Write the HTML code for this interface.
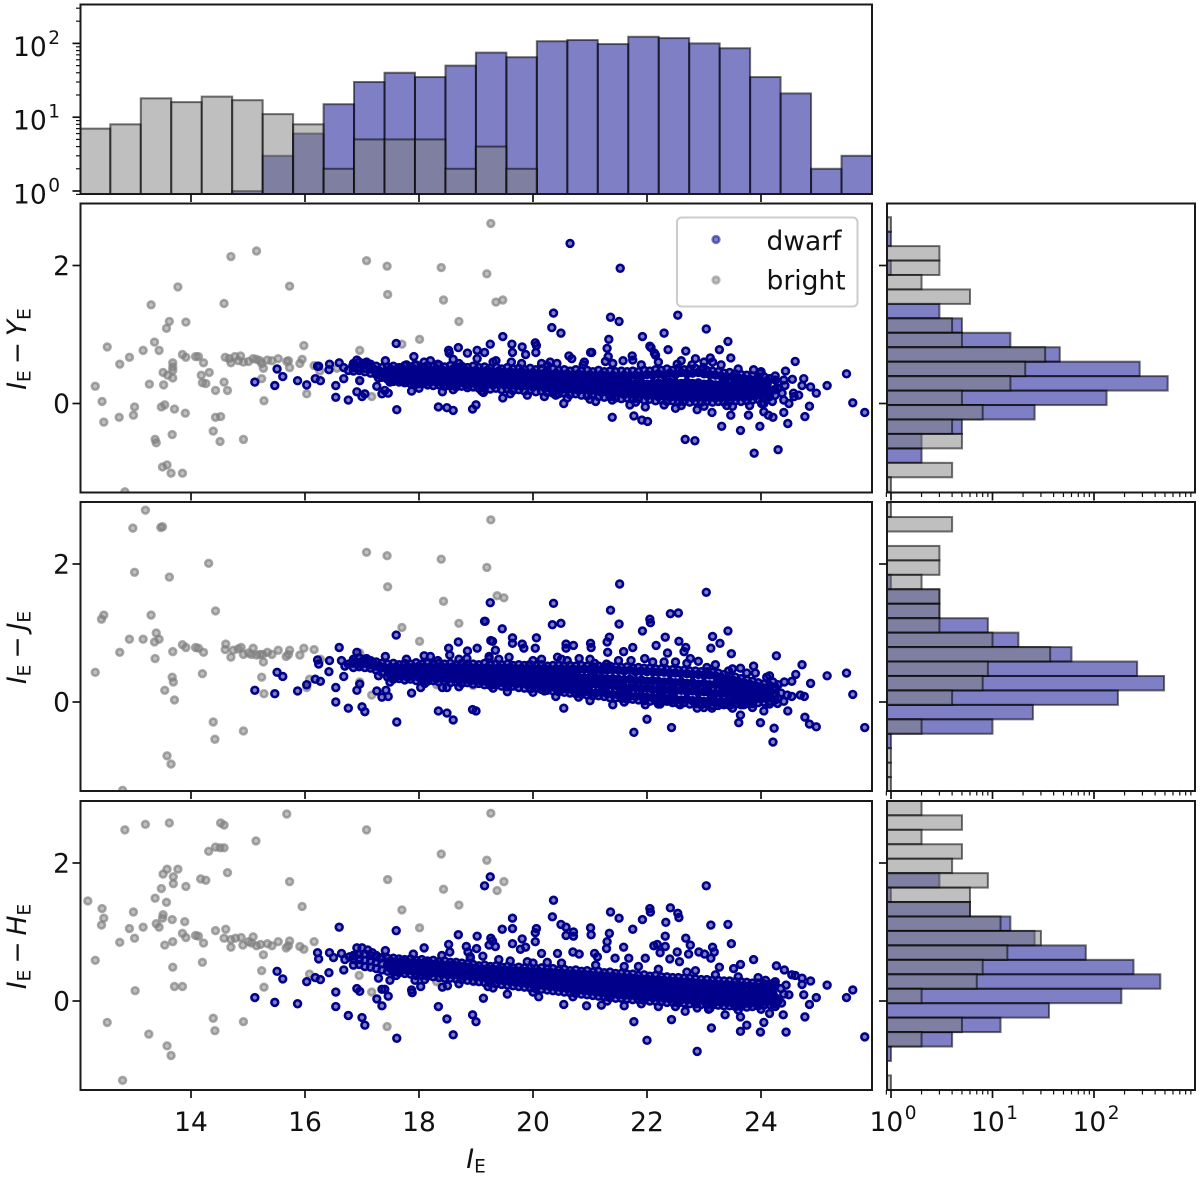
<!DOCTYPE html>
<html lang="en">
<head>
<meta charset="utf-8">
<title>Colour-magnitude diagrams of dwarf and bright galaxies</title>
<style>
html,body{margin:0;padding:0;background:#fff;width:1200px;height:1178px;overflow:hidden}
svg{display:block;font-family:"DejaVu Sans","Liberation Sans",sans-serif;fill:#111}
</style>
</head>
<body>
<svg id="chart" xmlns="http://www.w3.org/2000/svg" width="1200" height="1178" viewBox="0 0 1200 1178"></svg>
<script>
// ---- top histogram of I_E
const magBinStart = 12.05;
const magBinWidth = 0.5345;
const magHistDwarf = [0,0,0,0,0,1,3,6,15,30,40,35,50,75,65,107,111,98,123,118,100,86,35,21,2,3];
const magHistBright = [7,8,18,16,19,17,11,8,2,5,5,5,2,4,2,0,0,0,0,0,0,0,0,0,0,0];

// ---- right histograms of colours (top bin first)
const colourBinWidth = 0.2094;
const colourBinTop = [2.70, 2.89, 2.90];
const colourHistDwarf = [
 [0,1,0,1,0,0,3,5,15,46,282,532,133,26,5,2,2,0,0],
 [0,0,0,0,0,1,3,3,9,18,60,266,490,172,25,10,1,0,0,0],
 [0,0,0,0,0,3,1,6,15,26,83,245,450,186,36,12,4,1,0,0]
];
const colourHistBright = [
 [1,0,3,3,2,6,0,4,5,33,21,15,5,8,4,5,0,4,1],
 [1,4,0,3,3,2,3,3,3,10,37,9,8,4,0,2,0,1,1,1],
 [2,5,2,5,4,9,6,6,12,30,14,8,7,2,0,5,2,0,0,1]
];

// ---- scatter: bright galaxies [I_E, colour]
const brightYE = [[14.70,2.13],[15.15,2.21],[13.77,1.69],[15.73,1.70],[13.30,1.43],[14.58,1.45],[13.62,1.19],[13.91,1.18],[13.57,1.09],[13.36,.89],[12.53,.82],[13.16,.77],[13.44,.77],[12.92,.67],[12.75,.57],[13.85,.71],[13.91,.67],[14.08,.68],[14.13,.68],[14.22,.59],[13.68,.59],[13.68,.53],[13.68,.48],[13.51,.45],[13.59,.41],[13.68,.37],[14.32,.45],[14.18,.41],[14.20,.30],[14.26,.29],[12.32,.25],[13.27,.28],[13.52,.27],[14.58,.31],[14.64,.19],[14.43,.19],[12.44,.03],[13.01,-.05],[12.99,-.17],[12.74,-.20],[12.47,-.27],[13.48,-.05],[13.54,-.02],[13.71,-.08],[13.90,-.14],[14.43,-.20],[14.52,-.19],[14.39,-.40],[14.51,-.55],[14.92,-.52],[13.67,-.45],[13.37,-.52],[13.39,-.57],[13.50,-.92],[13.58,-.89],[13.65,-1.01],[13.85,-1.01],[12.84,-1.28],[14.60,.67],[14.67,.65],[14.77,.68],[14.87,.69],[14.70,.59],[14.83,.62],[14.92,.60],[15.01,.61],[15.09,.65],[15.15,.64],[15.21,.62],[15.24,.58],[15.27,.51],[15.34,.63],[15.42,.62],[15.53,.65],[15.68,.61],[15.71,.62],[15.73,.52],[15.91,.58],[15.95,.64],[15.98,.84],[15.24,.36],[15.28,.04],[16.03,.14],[16.16,.55],[16.26,.47],[16.56,.51],[16.96,.77],[16.96,.34],[17.17,.10],[17.70,.86],[18.01,.93],[17.45,1.58],[17.44,1.99],[17.08,2.07],[18.39,1.97],[18.43,1.50],[18.70,1.19],[19.19,1.88],[19.26,2.61],[18.95,.24],[18.31,.31],[19.35,1.47],[19.47,1.50]];
const brightJE = [[13.20,2.78],[12.98,2.52],[13.50,2.54],[13.47,2.53],[13.01,1.88],[13.62,1.81],[14.31,2.01],[14.43,1.32],[13.30,1.26],[12.47,1.26],[12.43,1.20],[13.39,1.00],[13.44,.91],[13.36,.87],[12.92,.91],[13.16,.91],[12.75,.72],[13.85,.83],[13.91,.79],[14.08,.79],[14.13,.78],[14.22,.72],[13.68,.73],[13.37,.63],[12.32,.43],[14.20,.41],[13.67,.36],[13.69,.29],[13.54,.17],[13.71,.03],[14.39,-.29],[14.42,-.54],[14.92,-.42],[13.58,-.78],[13.65,-.90],[12.80,-1.28],[14.60,.76],[14.61,.84],[14.70,.65],[14.74,.75],[14.83,.77],[14.88,.79],[14.92,.69],[15.01,.71],[15.09,.78],[15.06,.69],[15.15,.68],[15.21,.69],[15.26,.69],[15.27,.58],[15.34,.72],[15.42,.69],[15.53,.75],[15.67,.66],[15.71,.69],[15.73,.75],[15.91,.68],[15.98,.78],[16.16,.76],[16.27,.62],[15.24,.36],[15.28,.12],[16.03,.21],[16.08,.33],[16.96,.71],[16.96,.29],[17.17,.10],[17.08,2.17],[17.44,2.12],[17.45,1.67],[18.39,2.07],[18.43,1.46],[18.70,1.14],[17.70,1.08],[18.01,.88],[19.19,1.95],[19.26,2.64],[18.31,.25],[18.95,.24],[19.37,1.54],[19.49,1.51]];
const brightHE = [[15.68,2.71],[12.84,2.48],[13.20,2.56],[13.62,2.58],[14.52,2.58],[14.58,2.55],[15.14,2.32],[14.31,2.17],[14.43,2.23],[14.51,2.22],[14.58,2.22],[14.64,1.86],[13.58,1.91],[13.77,1.91],[13.51,1.84],[13.69,1.80],[13.69,1.70],[14.17,1.77],[14.26,1.75],[13.91,1.66],[13.48,1.63],[13.37,1.49],[13.57,1.43],[12.19,1.45],[12.44,1.34],[12.47,1.20],[12.43,1.10],[12.99,1.29],[13.51,1.25],[13.50,1.20],[13.67,1.18],[13.89,1.15],[13.39,1.12],[13.44,1.07],[13.16,1.07],[12.92,1.05],[13.01,.91],[12.75,.85],[13.54,.81],[13.68,.86],[13.85,.98],[13.91,.92],[14.08,.95],[14.13,.94],[14.22,.84],[14.43,1.02],[14.61,1.04],[14.58,.91],[14.70,.89],[14.70,.78],[14.78,.91],[14.88,.92],[14.91,.81],[15.01,.86],[15.09,.93],[15.06,.84],[15.15,.80],[15.22,.82],[15.27,.67],[15.34,.83],[15.42,.80],[15.53,.86],[15.67,.77],[15.71,.80],[15.73,.87],[15.91,.79],[15.98,.75],[16.16,.86],[15.95,1.37],[15.73,1.73],[12.32,.59],[14.20,.56],[13.68,.49],[13.02,.15],[13.71,.21],[13.85,.21],[15.24,.44],[15.28,.20],[16.08,.39],[12.53,-.31],[13.26,-.48],[13.58,-.65],[13.65,-.79],[12.80,-1.15],[14.39,-.25],[14.42,-.43],[14.92,-.30],[16.95,.37],[17.17,.13],[17.44,-.37],[17.45,1.76],[17.08,2.48],[17.70,1.32],[18.01,1.06],[18.39,2.13],[18.43,1.62],[18.70,1.39],[19.19,2.04],[19.26,2.72],[18.31,.28],[18.96,.28],[19.49,1.73],[19.37,1.60]];

// ---- scatter: dwarf galaxies, sparse outskirts [I_E, colour]
const dwarfYE = [[15.12,.31],[15.51,.50],[15.61,.39],[15.47,.26],[15.87,.33],[16.03,.27],[16.18,.36],[16.27,.33],[16.22,.54],[16.24,.54],[16.43,.57],[16.42,.49],[16.60,.59],[16.54,.26],[16.54,.09],[16.76,.05],[16.68,.36],[16.91,.63],[16.96,.33],[17.05,.14],[16.91,.17],[17.00,.10],[17.26,.25],[17.41,.62],[17.49,.31],[17.40,.19],[17.35,.14],[17.46,.15],[17.29,.37],[17.60,.87],[17.61,-.09],[17.87,.18],[18.03,.29],[17.91,.68],[17.78,.56],[18.09,.60],[17.93,.56],[18.33,.57],[18.31,.31],[18.41,.17],[18.49,.26],[18.34,-.05],[18.49,-.06],[18.60,-.10],[18.94,-.08],[19.00,-.02],[19.13,.16],[18.52,.77],[18.53,.73],[18.60,.64],[18.69,.81],[18.85,.73],[19.02,.77],[19.02,.65],[19.15,.74],[19.25,.86],[18.85,.27],[16.68,.52],[16.76,.48],[16.84,.55],[16.95,.52],[17.02,.58],[17.08,.60],[17.14,.54],[17.20,.50],[17.30,.47],[17.38,.44],
[20.65,2.32],[21.53,1.96],[20.36,1.31],[20.33,1.10],[20.49,1.02],[21.36,1.25],[21.51,1.19],[22.54,1.28],[23.04,1.08],[22.30,1.02],[21.92,.97],[21.33,.93],[23.42,.90],[23.27,.78],[21.30,.80],[21.32,.68],[21.27,.61],[21.01,.74],[21.03,.74],[22.37,.78],[22.05,.83],[22.07,.81],[22.13,.73],[22.15,.70],[22.68,.76],[22.85,.65],[23.11,.66],[23.15,.60],[23.47,.66],[24.60,.61],[24.43,.47],[24.75,.36],[24.55,.35],[24.72,.26],[24.87,.24],[24.97,.15],[25.16,.26],[25.50,.43],[25.61,.01],[25.82,-.13],[24.85,-.04],[24.77,-.19],[24.47,-.29],[24.40,-.13],[24.21,-.20],[24.13,-.17],[24.05,-.12],[24.01,0],[23.98,-.33],[24.30,-.67],[23.88,-.72],[23.64,-.39],[23.31,-.33],[23.47,-.17],[23.78,-.17],[23.14,-.13],[22.88,-.09],[22.67,-.52],[22.84,-.54],[22.01,-.26],[21.91,-.24],[21.77,-.18],[21.39,-.20],[21.97,-.05],[21.80,.02],[21.39,.05],[20.54,0],[19.47,.08],[20.04,.88],[20.06,.84],[20.05,.74],[19.63,.86],[19.64,.74],[19.81,.82],[19.87,.71],[19.47,.97],[20.63,.69],[20.68,.65],[20.88,.56],[21.74,.69],[21.75,.63],[21.58,.62],[22.53,.57],[22.79,.56],[22.99,.52],[23.87,.49],[23.99,.44],[24.57,.15],[24.49,0],[24.58,.10],[24.66,.12],[24.23,.20],[24.37,.15],[24.11,.29],[24.16,.36],[24.30,.30],[24.42,.26],[20.25,.55],[20.42,.58],[20.15,.58],[19.62,.60],[19.35,.62],[19.90,.12],[20.20,.10],[20.60,.08],[21.10,.03],[22.30,-.02],[22.60,-.03],[23.00,-.04],[23.40,-.03],
[18.2,.62],[18.7,.58],[19.3,.60],[19.8,.58],[20.3,.60],[20.9,.60],[21.4,.58],[21.9,.56],[22.2,.60],[22.6,.62],[23.0,.60],[23.3,.56],[23.6,.50],[24.0,.46],[24.25,.40],[24.4,.34],[24.3,.22],[24.4,.05],[24.2,.03],[24.05,.0],[23.8,-.03],[23.5,-.04],[22.5,-.07],[21.7,-.02],[21.0,.06],[20.4,.12],[19.6,.14],[19.1,.18],[18.6,.20],[18.0,.22]];
const dwarfJE = [[15.12,.17],[15.51,.43],[15.61,.37],[15.47,.12],[15.87,.16],[16.03,.25],[16.18,.33],[16.27,.30],[16.22,.61],[16.24,.55],[16.43,.60],[16.42,.44],[16.60,.79],[16.64,.60],[16.54,.21],[16.54,0],[16.76,-.09],[16.68,.37],[16.91,.72],[16.96,.26],[16.91,.17],[17.00,-.07],[17.05,-.14],[17.26,.16],[17.35,.07],[17.46,.08],[17.42,.17],[17.29,.38],[17.41,.66],[17.49,.29],[17.60,.97],[17.61,-.29],[17.87,.13],[18.03,.21],[17.78,.62],[18.09,.67],[18.33,.60],[18.41,.21],[18.49,.21],[18.34,-.13],[18.49,-.16],[18.60,-.26],[18.94,-.11],[19.00,-.13],[18.52,.78],[18.54,.68],[18.69,.87],[18.85,.74],[19.02,.78],[19.15,1.17],[19.25,1.44],[19.26,.89],[18.84,.63],[19.23,.63],[16.70,.52],[16.76,.55],[16.84,.58],[16.95,.55],[17.02,.60],[17.08,.63],[17.14,.58],[17.20,.56],[17.30,.52],[17.38,.50],
[21.52,1.71],[23.04,1.59],[19.16,1.17],[20.36,1.43],[20.34,1.12],[20.49,1.14],[21.36,1.33],[21.51,1.13],[22.41,1.28],[22.55,1.29],[22.05,1.20],[22.06,1.15],[21.92,1.03],[22.32,.94],[22.56,.88],[22.68,.79],[22.65,.73],[22.16,.82],[21.75,.79],[21.59,.73],[21.31,.72],[21.30,.87],[21.34,.94],[21.01,.85],[21.02,.79],[20.58,.84],[20.71,.82],[20.58,.78],[20.06,.93],[20.04,.78],[19.81,.84],[19.84,.78],[19.64,.93],[19.64,.85],[19.46,1.06],[19.29,.88],[19.34,.75],[23.42,1.03],[23.15,.95],[23.28,.85],[23.12,.78],[23.48,.70],[24.27,.67],[24.72,.54],[24.61,.40],[24.87,.27],[25.16,.38],[25.50,.42],[25.61,.11],[25.82,-.37],[24.76,.08],[24.69,.10],[24.97,-.36],[24.85,-.32],[24.77,-.22],[24.47,-.13],[24.23,-.38],[24.21,-.58],[24.05,-.13],[23.99,-.30],[23.61,-.30],[23.64,-.19],[22.00,-.25],[21.77,-.44],[22.43,-.37],[20.54,-.09],[21.40,-.04],[21.97,-.04],[22.23,-.03],[22.58,-.04],[22.88,-.09],[23.14,-.09],[24.15,.38],[24.21,.29],[24.41,.29],[24.54,.30],[23.87,.52],[23.64,.49],[23.43,.45],[23.75,.42],[24.22,.12],[24.29,-.02],[24.40,.01],[24.46,.10],[24.54,.08],[22.90,.59],[22.76,.63],[22.36,.71],[21.96,.63],[21.72,.60],[21.29,.55],[21.08,.56],[20.81,.63],[20.43,.65],[20.15,.62],[19.94,.54],[19.58,.65],[19.23,.66],[19.55,.15],[20.00,.14],[20.40,.08],[21.00,.02],[22.40,.01],[23.30,-.03],[23.70,-.04],[22.10,.58],[22.50,.58],[23.05,.50],[20.60,.60],
[18.2,.66],[18.7,.62],[19.4,.62],[20.0,.60],[20.5,.62],[21.0,.62],[21.5,.60],[22.3,.58],[22.7,.56],[23.2,.54],[23.5,.48],[23.9,.42],[24.1,.36],[24.3,.25],[24.25,.18],[24.35,.13],[24.3,.05],[24.15,-.03],[23.85,-.08],[23.5,-.09],[23.0,-.08],[22.2,-.03],[21.6,.0],[20.8,.07],[20.2,.16],[19.3,.20],[18.7,.22],[18.1,.27]];
const dwarfHE = [[15.12,.05],[15.51,.43],[15.61,.32],[15.47,-.02],[15.87,-.04],[16.03,.28],[16.18,.34],[16.27,.31],[16.22,.70],[16.24,.61],[16.43,.70],[16.42,.41],[16.60,1.07],[16.64,.69],[16.50,.63],[16.54,.13],[16.54,-.08],[16.76,-.21],[16.68,.45],[16.91,.77],[17.00,.77],[17.10,.74],[16.91,.18],[16.96,.14],[17.00,-.24],[17.05,-.35],[17.26,.03],[17.35,-.07],[17.46,.07],[17.40,.17],[17.35,.17],[17.29,.33],[17.41,.73],[17.49,.30],[17.60,1.02],[17.61,-.54],[17.87,.16],[17.88,.12],[18.03,.21],[18.09,.77],[17.93,.30],[18.41,.20],[18.50,.22],[18.34,-.08],[18.49,-.26],[18.60,-.49],[18.94,-.20],[19.00,-.30],[19.13,.04],[18.52,.82],[18.54,.71],[18.69,.96],[18.83,.79],[18.86,.71],[19.02,.94],[19.01,.76],[19.15,1.67],[19.25,1.80],[19.26,.91],[19.23,.81],[19.21,.21],[16.70,.60],[16.78,.64],[16.85,.66],[16.93,.68],[17.18,.70],[17.25,.66],[17.32,.62],
[23.04,1.67],[20.36,1.46],[20.34,1.22],[20.49,1.11],[20.58,1.07],[20.71,1.00],[20.71,.94],[20.58,.95],[21.01,1.06],[21.02,.96],[21.36,1.29],[21.51,1.20],[21.92,1.18],[21.75,1.04],[22.05,1.34],[22.06,1.29],[22.41,1.35],[22.54,1.27],[22.56,1.21],[22.33,1.14],[22.32,.94],[21.34,.98],[21.30,.86],[21.29,.76],[21.59,.78],[20.06,1.05],[20.04,.99],[20.04,.86],[19.64,1.20],[19.64,1.05],[19.64,.83],[19.46,1.04],[19.81,.90],[19.87,.78],[19.78,.75],[19.29,.87],[19.34,.79],[23.12,1.10],[23.42,1.11],[23.48,.83],[23.15,.78],[23.18,.71],[23.12,.62],[22.68,.91],[22.76,.81],[22.53,.71],[22.73,.68],[22.91,.71],[23.01,.68],[22.12,.80],[22.18,.82],[22.32,.79],[22.40,.61],[22.23,.70],[22.57,.57],[20.15,.69],[20.43,.69],[20.70,.71],[20.81,.68],[21.08,.69],[21.13,.64],[21.68,.62],[21.97,.62],[21.44,.62],[23.87,.60],[23.64,.53],[23.27,.49],[23.52,.47],[24.27,.51],[24.41,.45],[24.54,.38],[24.60,.37],[24.72,.33],[24.87,.29],[25.16,.23],[25.61,.16],[25.50,.05],[24.97,.05],[24.85,-.05],[24.77,-.23],[24.75,.09],[24.44,-.45],[24.39,-.20],[24.15,-.18],[24.05,-.31],[23.99,-.45],[23.75,-.35],[23.64,-.44],[23.64,-.23],[23.37,-.20],[23.13,-.39],[23.08,-.12],[22.88,-.73],[22.88,-.10],[22.67,-.15],[22.43,-.27],[22.00,-.57],[21.77,-.30],[20.94,-.07],[20.54,-.05],[25.82,-.52],[24.44,.23],[24.72,.24],[24.49,.09],[24.22,-.03],[24.36,-.03],[24.22,.26],[24.21,.11],[24.08,.30],[19.60,.58],[20.00,.55],[20.25,.56],[21.85,.50],[22.85,.44],[19.55,.10],[20.10,.06],[21.20,-.06],[21.60,-.07],[22.20,-.08],[19.12,.65],[18.90,.64],
[17.9,.68],[18.4,.66],[18.9,.62],[19.4,.60],[19.9,.57],[20.5,.55],[21.1,.52],[21.6,.50],[22.2,.46],[22.7,.42],[23.2,.38],[23.6,.35],[23.95,.34],[24.25,.28],[24.35,.18],[24.4,.10],[24.3,.0],[24.25,-.08],[24.0,-.12],[23.6,-.13],[23.1,-.11],[22.5,-.08],[21.9,-.04],[21.3,.0],[20.7,.06],[20.0,.13],[19.3,.19],[18.7,.25],[18.1,.31],[17.6,.37]];

// ---- scatter: dwarf galaxies, dense ridge; each row is I_E then the colours of the objects at that magnitude
const dwarfRidgeYE = [[17.5,.50,.44,.39,.33],[17.6,.49,.43,.37,.34],[17.7,.51,.45,.38,.32],[17.8,.48,.44,.37,.33],[17.9,.50,.43,.39,.31],[18.0,.49,.44,.36,.32],[18.1,.51,.42,.38,.30],[18.2,.48,.43,.37,.31],[18.3,.50,.44,.36,.32],[18.4,.49,.42,.37,.30],[18.5,.47,.43,.35,.31],[18.6,.50,.41,.37,.29],[18.7,.48,.42,.35,.30],[18.8,.49,.40,.36,.29],[18.9,.47,.42,.34,.30],[19.0,.48,.41,.35,.28],[19.1,.46,.40,.34,.29],[19.2,.48,.39,.33,.28],[19.3,.45,.40,.34,.27],[19.4,.47,.38,.33,.28],[19.5,.45,.39,.32,.27],[19.6,.46,.38,.33,.26],[19.7,.44,.38,.31,.26],[19.8,.46,.37,.32,.25],[19.9,.43,.38,.31,.26],[20.0,.45,.36,.31,.24],[20.1,.43,.37,.30,.25],[20.2,.44,.35,.29,.23],[20.3,.42,.36,.30,.22],[20.4,.44,.35,.28,.23],[20.5,.42,.34,.27,.21],[20.6,.43,.35,.28,.20],[20.7,.41,.33,.26,.21],[20.8,.43,.34,.27,.19],[20.9,.41,.32,.25,.20],[21.0,.42,.33,.26,.18],[21.1,.40,.31,.24,.19],[21.2,.42,.32,.25,.16],[21.3,.40,.30,.23,.17],[21.4,.41,.31,.22,.14],[21.5,.39,.29,.23,.15],[21.6,.41,.30,.21,.13],[21.7,.40,.28,.22,.14],[21.8,.41,.29,.20,.12],[21.9,.40,.30,.21,.13],[22.0,.42,.28,.19,.11],[22.1,.41,.29,.20,.12],[22.2,.43,.30,.19,.10],[22.3,.41,.29,.18,.11],[22.4,.44,.31,.19,.09],[22.5,.42,.30,.20,.10],[22.6,.45,.29,.18,.08],[22.7,.43,.31,.19,.09],[22.8,.44,.29,.18,.08],[22.9,.45,.30,.19,.09],[23.0,.43,.28,.18,.08],[23.1,.42,.29,.17,.09],[23.2,.41,.27,.18,.08],[23.3,.40,.28,.16,.09],[23.4,.38,.26,.17,.08],[23.5,.39,.27,.16,.09],[23.6,.37,.25,.17,.10],[23.7,.36,.26,.15,.09],[23.8,.35,.24,.16,.10],[23.9,.34,.25,.17,.11],[24.0,.32,.24,.16,.12],[24.1,.33,.22,.15,.13]];
const dwarfRidgeJE = [[17.5,.50,.46,.42,.38],[17.6,.51,.45,.41,.37],[17.7,.49,.44,.40,.38],[17.8,.51,.46,.41,.36],[17.9,.50,.44,.40,.37],[18.0,.52,.45,.39,.36],[18.1,.50,.44,.40,.35],[18.2,.51,.46,.39,.36],[18.3,.49,.44,.38,.34],[18.4,.51,.45,.39,.35],[18.5,.50,.43,.38,.33],[18.6,.51,.44,.37,.34],[18.7,.49,.43,.38,.32],[18.8,.51,.44,.37,.33],[18.9,.50,.42,.36,.31],[19.0,.50,.43,.37,.31],[19.1,.49,.42,.35,.30],[19.2,.50,.43,.36,.29],[19.3,.48,.41,.34,.30],[19.4,.50,.42,.35,.28],[19.5,.49,.41,.34,.27],[19.6,.50,.40,.33,.28],[19.7,.48,.41,.34,.26],[19.8,.49,.39,.32,.27],[19.9,.48,.40,.33,.25],[20.0,.49,.39,.31,.24],[20.1,.48,.38,.32,.25],[20.2,.49,.39,.30,.22],[20.3,.47,.37,.31,.23],[20.4,.48,.38,.29,.20],[20.5,.48,.37,.28,.18],[20.6,.47,.36,.27,.19],[20.7,.48,.37,.28,.17],[20.8,.47,.36,.26,.16],[20.9,.48,.35,.27,.15],[21.0,.47,.36,.25,.14],[21.1,.46,.34,.26,.13],[21.2,.47,.35,.24,.14],[21.3,.46,.33,.23,.12],[21.4,.47,.34,.24,.11],[21.5,.46,.33,.22,.10],[21.6,.45,.32,.21,.11],[21.7,.46,.33,.20,.09],[21.8,.44,.31,.21,.08],[21.9,.45,.32,.19,.09],[22.0,.44,.30,.20,.07],[22.1,.44,.31,.18,.06],[22.2,.43,.30,.19,.07],[22.3,.43,.29,.17,.05],[22.4,.42,.30,.18,.06],[22.5,.42,.28,.16,.04],[22.6,.41,.29,.17,.03],[22.7,.41,.27,.15,.04],[22.8,.40,.28,.16,.02],[22.9,.40,.26,.14,.03],[23.0,.39,.27,.15,.01],[23.1,.39,.25,.13,.02],[23.2,.38,.26,.12,.00],[23.3,.36,.24,.13,.01],[23.4,.34,.23,.12,.00],[23.5,.32,.22,.11,.01],[23.6,.30,.21,.12,.02],[23.7,.28,.20,.10,.01],[23.8,.26,.19,.11,.03],[23.9,.24,.18,.10,.04],[24.0,.22,.17,.11,.05],[24.1,.20,.16,.10,.05]];
const dwarfRidgeHE = [[17.5,.58,.54,.50,.47],[17.6,.57,.53,.49,.46],[17.7,.58,.52,.48,.45],[17.8,.56,.52,.49,.44],[17.9,.56,.51,.47,.43],[18.0,.55,.50,.46,.42],[18.1,.56,.50,.45,.41],[18.2,.54,.49,.44,.40],[18.3,.54,.48,.45,.41],[18.4,.53,.49,.43,.39],[18.5,.52,.47,.42,.38],[18.6,.53,.46,.43,.38],[18.7,.51,.47,.41,.37],[18.8,.50,.45,.40,.36],[18.9,.49,.44,.41,.36],[19.0,.48,.44,.39,.35],[19.1,.46,.42,.38,.34],[19.2,.47,.41,.36,.32],[19.3,.46,.40,.35,.31],[19.4,.46,.39,.34,.30],[19.5,.45,.39,.34,.29],[19.6,.45,.38,.32,.28],[19.7,.44,.37,.33,.27],[19.8,.44,.37,.31,.26],[19.9,.43,.36,.30,.25],[20.0,.43,.36,.29,.24],[20.1,.43,.35,.28,.23],[20.2,.42,.34,.29,.22],[20.3,.42,.34,.27,.21],[20.4,.41,.33,.26,.20],[20.5,.41,.33,.25,.19],[20.6,.40,.32,.26,.18],[20.7,.40,.31,.24,.17],[20.8,.39,.31,.23,.16],[20.9,.39,.30,.22,.15],[21.0,.38,.29,.21,.14],[21.1,.37,.29,.20,.13],[21.2,.37,.28,.21,.12],[21.3,.36,.27,.19,.11],[21.4,.36,.27,.18,.10],[21.5,.35,.26,.17,.09],[21.6,.34,.25,.18,.08],[21.7,.34,.25,.16,.08],[21.8,.33,.24,.15,.07],[21.9,.32,.23,.14,.07],[22.0,.32,.23,.15,.06],[22.1,.31,.22,.13,.05],[22.2,.31,.21,.12,.05],[22.3,.30,.21,.11,.04],[22.4,.29,.20,.12,.03],[22.5,.29,.19,.10,.03],[22.6,.28,.19,.09,.02],[22.7,.28,.18,.10,.02],[22.8,.27,.17,.08,.01],[22.9,.26,.17,.07,.01],[23.0,.26,.16,.08,.00],[23.1,.25,.15,.06,.00],[23.2,.25,.15,.05,-.01],[23.3,.24,.14,.06,-.02],[23.4,.24,.13,.04,-.02],[23.5,.23,.13,.03,-.03],[23.6,.23,.12,.04,-.03],[23.7,.22,.11,.02,-.04],[23.8,.22,.11,.03,-.04],[23.9,.21,.10,.02,-.03],[24.0,.20,.10,.01,-.02],[24.1,.19,.09,.02,-.01],[24.2,.18,.09,.01,.00]];

// ---- scatter: dwarf galaxies between the ridge rows, reaching its upper and lower edges
const dwarfFringeYE = [[16.85,.58,.52,.47],[16.95,.60,.53,.48],[17.05,.58,.51,.46],[17.15,.57,.50,.44],[17.25,.54,.47,.42],[17.35,.52,.45,.38],[17.45,.53,.42,.35],[17.55,.54,.41,.32],[17.65,.52,.40,.31],[17.75,.55,.42,.30],[17.85,.53,.40,.29],[17.95,.56,.41,.28],[18.05,.53,.40,.29],[18.15,.55,.39,.27],[18.25,.54,.41,.26],[18.35,.56,.40,.27],[18.45,.53,.39,.25],[18.55,.55,.38,.26],[18.65,.53,.40,.24],[18.75,.54,.38,.25],[18.85,.52,.39,.23],[18.95,.54,.37,.24],[19.05,.52,.38,.22],[19.15,.53,.36,.23],[19.25,.51,.37,.21],[19.35,.53,.36,.22],[19.45,.50,.35,.20],[19.55,.52,.36,.21],[19.65,.50,.34,.19],[19.75,.51,.35,.20],[19.85,.49,.34,.18],[19.95,.51,.33,.19],[20.05,.49,.34,.17],[20.15,.50,.32,.18],[20.25,.48,.33,.16],[20.35,.50,.31,.15],[20.45,.48,.32,.14],[20.55,.49,.30,.15],[20.65,.47,.31,.13],[20.75,.49,.29,.14],[20.85,.47,.30,.12],[20.95,.48,.29,.11],[21.05,.46,.28,.12],[21.15,.48,.27,.10],[21.25,.46,.28,.09],[21.35,.47,.26,.10],[21.45,.46,.27,.08],[21.55,.47,.25,.07],[21.65,.46,.26,.08],[21.75,.47,.24,.06],[21.85,.46,.25,.07],[21.95,.48,.24,.05],[22.05,.47,.25,.06],[22.15,.49,.24,.04],[22.25,.48,.25,.05],[22.35,.50,.24,.03],[22.45,.48,.25,.04],[22.55,.51,.24,.02],[22.65,.49,.25,.03],[22.75,.50,.23,.02],[22.85,.51,.24,.03],[22.95,.49,.23,.02],[23.05,.48,.24,.03],[23.15,.47,.22,.02],[23.25,.46,.23,.03],[23.35,.44,.21,.02],[23.45,.45,.22,.03],[23.55,.43,.20,.04],[23.65,.42,.21,.03],[23.75,.41,.19,.04],[23.85,.40,.20,.05],[23.95,.38,.19,.06],[24.05,.39,.18,.08],[24.15,.36,.18,.10],[24.25,.34,.20,.12]];
const dwarfFringeJE = [[16.85,.62,.56,.50],[16.95,.64,.57,.51],[17.05,.62,.56,.50],[17.15,.60,.54,.49],[17.25,.58,.52,.46],[17.35,.56,.50,.43],[17.45,.55,.47,.36],[17.55,.56,.44,.33],[17.65,.54,.43,.34],[17.75,.56,.42,.32],[17.85,.55,.43,.33],[17.95,.57,.42,.31],[18.05,.55,.43,.32],[18.15,.56,.41,.30],[18.25,.54,.42,.31],[18.35,.56,.41,.29],[18.45,.55,.40,.30],[18.55,.56,.41,.28],[18.65,.54,.40,.29],[18.75,.56,.39,.27],[18.85,.55,.40,.28],[18.95,.55,.38,.26],[19.05,.54,.39,.27],[19.15,.56,.38,.25],[19.25,.54,.37,.24],[19.35,.55,.38,.25],[19.45,.54,.37,.23],[19.55,.55,.36,.22],[19.65,.53,.37,.23],[19.75,.54,.35,.21],[19.85,.53,.36,.20],[19.95,.54,.35,.19],[20.05,.53,.34,.20],[20.15,.54,.35,.18],[20.25,.52,.33,.17],[20.35,.53,.34,.16],[20.45,.53,.32,.15],[20.55,.52,.33,.14],[20.65,.53,.31,.13],[20.75,.52,.32,.12],[20.85,.53,.30,.11],[20.95,.52,.31,.10],[21.05,.51,.29,.09],[21.15,.52,.30,.09],[21.25,.51,.28,.08],[21.35,.52,.29,.06],[21.45,.51,.27,.06],[21.55,.50,.28,.05],[21.65,.51,.26,.04],[21.75,.49,.27,.04],[21.85,.50,.25,.03],[21.95,.49,.26,.02],[22.05,.49,.24,.01],[22.15,.48,.25,.02],[22.25,.48,.23,.00],[22.35,.47,.24,.01],[22.45,.47,.22,-.01],[22.55,.46,.23,-.02],[22.65,.46,.21,-.01],[22.75,.45,.22,-.03],[22.85,.45,.20,-.02],[22.95,.44,.21,-.04],[23.05,.44,.19,-.03],[23.15,.43,.20,-.05],[23.25,.42,.18,-.05],[23.35,.40,.18,-.04],[23.45,.38,.17,-.05],[23.55,.36,.16,-.03],[23.65,.34,.15,-.04],[23.75,.32,.14,-.02],[23.85,.30,.14,-.02],[23.95,.28,.13,-.01],[24.05,.26,.13,0],[24.15,.24,.12,.01],[24.25,.22,.12,.03]];
const dwarfFringeHE = [[16.85,.66,.60,.52],[16.95,.68,.60,.53],[17.05,.68,.59,.50],[17.15,.66,.58,.49],[17.25,.64,.56,.47],[17.35,.63,.54,.45],[17.45,.62,.53,.43],[17.55,.62,.51,.42],[17.65,.61,.50,.41],[17.75,.60,.49,.40],[17.85,.61,.48,.39],[17.95,.59,.47,.37],[18.05,.60,.46,.37],[18.15,.58,.46,.36],[18.25,.59,.45,.35],[18.35,.57,.44,.34],[18.45,.58,.43,.33],[18.55,.56,.42,.33],[18.65,.56,.41,.32],[18.75,.55,.40,.31],[18.85,.54,.40,.30],[18.95,.53,.38,.29],[19.05,.51,.38,.28],[19.15,.52,.37,.27],[19.25,.50,.36,.26],[19.35,.51,.35,.25],[19.45,.49,.35,.24],[19.55,.50,.34,.23],[19.65,.48,.33,.22],[19.75,.49,.33,.21],[19.85,.48,.32,.20],[19.95,.48,.32,.19],[20.05,.47,.31,.18],[20.15,.48,.30,.17],[20.25,.46,.30,.16],[20.35,.47,.29,.15],[20.45,.45,.29,.14],[20.55,.46,.28,.13],[20.65,.44,.27,.12],[20.75,.45,.27,.11],[20.85,.43,.26,.10],[20.95,.44,.25,.09],[21.05,.42,.25,.08],[21.15,.43,.24,.07],[21.25,.41,.23,.06],[21.35,.42,.22,.05],[21.45,.40,.22,.04],[21.55,.40,.21,.04],[21.65,.39,.21,.03],[21.75,.39,.20,.02],[21.85,.37,.19,.02],[21.95,.38,.19,.01],[22.05,.36,.18,0],[22.15,.37,.17,0],[22.25,.35,.17,-.01],[22.35,.35,.16,-.02],[22.45,.34,.16,-.02],[22.55,.34,.15,-.03],[22.65,.33,.14,-.03],[22.75,.33,.14,-.04],[22.85,.32,.13,-.04],[22.95,.31,.12,-.05],[23.05,.31,.12,-.05],[23.15,.30,.11,-.06],[23.25,.30,.11,-.06],[23.35,.29,.10,-.07],[23.45,.29,.09,-.07],[23.55,.28,.09,-.08],[23.65,.28,.08,-.08],[23.75,.27,.08,-.09],[23.85,.26,.07,-.08],[23.95,.26,.07,-.07],[24.05,.25,.06,-.06],[24.15,.24,.05,-.05],[24.25,.23,.05,-.04]];

const xTicks = [14,16,18,20,22,24];
const colourTicks = [2,0];
const logDecades = [0,1,2];
const logMinorMultipliers = [2,3,4,5,6,7,8,9];

// ---- axis layout
const leftAxes = {l:80.5, r:872};
const rightAxes = {l:887, r:1195};
const topAxes = {t:4.5, b:194};
const panels = [
 {t:203.5,b:492.5,zero:403.5,name:'ye',sym:'Y'},
 {t:502,b:791,zero:702,name:'je',sym:'J'},
 {t:801,b:1090,zero:1001,name:'he',sym:'H'}
];
const bright = [brightYE, brightJE, brightHE];
const dwarf = [dwarfYE, dwarfJE, dwarfHE];
const ridge = [dwarfRidgeYE, dwarfRidgeJE, dwarfRidgeHE];
const fringe = [dwarfFringeYE, dwarfFringeJE, dwarfFringeHE];

const xScale = v => 191 + (v - 14) * 57;
const yScale = (panel, v) => panels[panel].zero - v * 69;
const topLogScale = c => 191 - Math.log10(c) * 73.8;
const rightLogScale = c => 891 + Math.log10(c) * 101.5;

const svg = document.getElementById('chart');
const NS = 'http://www.w3.org/2000/svg';
function make(tag, attrs, parent) {
  const el = document.createElementNS(NS, tag);
  for (const k in attrs) el.setAttribute(k, attrs[k]);
  (parent || svg).appendChild(el);
  return el;
}

const defs = make('defs', {});
function addClip(id, x, y, w, h) {
  const c = make('clipPath', {id}, defs);
  make('rect', {x, y, width:w, height:h}, c);
}
addClip('clip-top', leftAxes.l, topAxes.t, leftAxes.r - leftAxes.l, topAxes.b - topAxes.t);
panels.forEach((p, i) => {
  addClip('clip-s' + i, leftAxes.l, p.t, leftAxes.r - leftAxes.l, p.b - p.t);
  addClip('clip-h' + i, rightAxes.l, p.t, rightAxes.r - rightAxes.l, p.b - p.t);
});

const histStyle = {blue:'#00008b', grey:'#808080'};

function tick(x1, y1, x2, y2, w, parent, name) {
  const t = make('line', {x1, y1, x2, y2, stroke:'#111', 'stroke-width':w}, parent);
  
  
}
function frame(l, t, r, b, name) {
  const f = make('rect', {x:l, y:t, width:r-l, height:b-t, fill:'none', stroke:'#1a1a1a', 'stroke-width':2});
  
  
}
function label(x, y, str, anchor, size, name) {
  const t = make('text', {x, y, 'text-anchor':anchor, 'font-size':size});
  t.textContent = str;
  
  
  return t;
}
function powerLabel(x, y, exponent, anchor, name) {
  const t = make('text', {x, y, 'text-anchor':anchor, 'font-size':26.5});
  
  
  const base = make('tspan', {}, t);
  base.textContent = '10';
  const sup = make('tspan', {dx:1.5, dy:-12, 'font-size':18.5}, t);
  sup.textContent = String(exponent);
}
function mathLabel(x, y, rotate, parts, name) {
  const attrs = {x, y, 'text-anchor':'middle', 'font-size':26.5};
  if (rotate) attrs.transform = 'rotate(-90 ' + x + ' ' + y + ')';
  const t = make('text', attrs);
  
  
  let low = false;
  parts.forEach(p => {
    const a = {};
    if (p.it) a['font-style'] = 'italic';
    if (p.sub) { a['font-size'] = 18.5; a.dy = 4.5; low = true; }
    else if (low) { a.dy = -4.5; low = false; }
    if (p.dx) a.dx = p.dx;
    const s = make('tspan', a, t);
    s.textContent = p.s;
  });
}

// ---- top histogram
const topGroup = make('g', {'clip-path':'url(#clip-top)'});


function topBars(counts, colour, name) {
  counts.forEach((c, i) => {
    if (!c) return;
    const x = xScale(magBinStart + i * magBinWidth);
    const w = magBinWidth * 57;
    const y = topLogScale(c);
    const r = make('rect', {x, y, width:w, height:topAxes.b + 6 - y, fill:colour, 'fill-opacity':.5, stroke:'#000', 'stroke-opacity':.55, 'stroke-width':2}, topGroup);
    
    
  });
}
topBars(magHistDwarf, histStyle.blue, 'magnitude-bar-dwarf');
topBars(magHistBright, histStyle.grey, 'magnitude-bar-bright');

// ---- colour histograms and scatter panels
function dot(group, x, y, colour, fillOp, strokeOp, name) {
  const c = make('circle', {cx:x, cy:y, r:3.4, fill:colour, 'fill-opacity':fillOp, stroke:colour, 'stroke-opacity':strokeOp, 'stroke-width':2.6}, group);
  
  
}
panels.forEach((p, i) => {
  const g = make('g', {'clip-path':'url(#clip-s' + i + ')'});
  
  
  bright[i].forEach(d => dot(g, xScale(d[0]), yScale(i, d[1]), '#808080', .5, .68, 'bright-point'));
  dwarf[i].forEach(d => dot(g, xScale(d[0]), yScale(i, d[1]), '#00008b', .5, 1, 'dwarf-point'));
  // ridge objects overlap so heavily in the original that they read as solid navy
  ridge[i].forEach(row => {
    for (let k = 1; k < row.length; k++) dot(g, xScale(row[0]), yScale(i, row[k]), '#00008b', 1, 1, 'dwarf-point');
  });
  fringe[i].forEach(row => {
    for (let k = 1; k < row.length; k++) dot(g, xScale(row[0]), yScale(i, row[k]), '#00008b', .5, 1, 'dwarf-point');
  });

  const h = make('g', {'clip-path':'url(#clip-h' + i + ')'});
  
  
  const bars = (counts, colour, name) => counts.forEach((c, k) => {
    if (!c) return;
    const top = yScale(i, colourBinTop[i] - k * colourBinWidth);
    const r = make('rect', {x:rightAxes.l - 6, y:top, width:rightLogScale(c) - rightAxes.l + 6, height:colourBinWidth * 69, fill:colour, 'fill-opacity':.5, stroke:'#000', 'stroke-opacity':.55, 'stroke-width':2}, h);
    
    
  });
  bars(colourHistDwarf[i], histStyle.blue, 'colour-bar-dwarf');
  bars(colourHistBright[i], histStyle.grey, 'colour-bar-bright');
});

// ---- frames
frame(leftAxes.l, topAxes.t, leftAxes.r, topAxes.b, 'magnitude-histogram-frame');
panels.forEach(p => {
  frame(leftAxes.l, p.t, leftAxes.r, p.b, 'scatter-frame-' + p.name);
  frame(rightAxes.l, p.t, rightAxes.r, p.b, 'colour-histogram-frame-' + p.name);
});

// ---- ticks
const tickGroup = make('g', {});


xTicks.forEach(v => {
  const x = xScale(v);
  tick(x, topAxes.b, x, topAxes.b + 8, 1.7, tickGroup, 'x-tick');
  panels.forEach(p => tick(x, p.b, x, p.b + 8, 1.7, tickGroup, 'x-tick'));
  label(x, 1131, String(v), 'middle', 26.5, 'x-tick-label');
});
logDecades.forEach(k => {
  const y = topLogScale(Math.pow(10, k));
  tick(leftAxes.l - 8, y, leftAxes.l, y, 1.7, tickGroup, 'count-tick');
  powerLabel(13, y + 12.5, k, 'start', 'count-tick-label');
  const x = rightLogScale(Math.pow(10, k));
  panels.forEach(p => tick(x, p.b, x, p.b + 8, 1.7, tickGroup, 'count-tick'));
  powerLabel(x + 2, 1131, k, 'middle', 'count-tick-label');
  logMinorMultipliers.forEach(m => {
    const c = m * Math.pow(10, k);
    const my = topLogScale(c);
    if (my > topAxes.t) tick(leftAxes.l - 4.5, my, leftAxes.l, my, 1.2, tickGroup, 'count-minor-tick');
    const mx = rightLogScale(c);
    if (mx < rightAxes.r) panels.forEach(p => tick(mx, p.b, mx, p.b + 4.5, 1.2, tickGroup, 'count-minor-tick'));
  });
});
tick(leftAxes.l - 4.5, topLogScale(.9), leftAxes.l, topLogScale(.9), 1.2, tickGroup, 'count-minor-tick');
panels.forEach(p => tick(rightLogScale(.9), p.b, rightLogScale(.9), p.b + 4.5, 1.2, tickGroup, 'count-minor-tick'));
panels.forEach((p, i) => {
  colourTicks.forEach(v => {
    const y = yScale(i, v);
    tick(leftAxes.l - 8, y, leftAxes.l, y, 1.7, tickGroup, 'colour-tick');
    tick(rightAxes.l - 8, y, rightAxes.l, y, 1.7, tickGroup, 'colour-tick');
    label(leftAxes.l - 19, y + 9.6, String(v), 'middle', 26.5, 'colour-tick-label');
  });
  mathLabel(26, (p.t + p.b) / 2 + 1, true, [
    {s:'I', it:true},{s:'E', sub:true},{s:'−', dx:6},{s:p.sym, it:true, dx:6},{s:'E', sub:true}
  ], 'y-axis-title-' + p.name);
});
mathLabel(476, 1168, false, [{s:'I', it:true},{s:'E', sub:true}], 'x-axis-title');

// ---- legend
const legend = make('g', {});


const legendBox = make('rect', {x:677, y:217.5, width:180.5, height:89, rx:4.5, fill:'#fff', 'fill-opacity':.8, stroke:'#ccc', 'stroke-width':2}, legend);


const legendDwarfMarker = make('circle', {cx:716, cy:239.5, r:3.4, fill:'#00008b', 'fill-opacity':.5, stroke:'#00008b', 'stroke-opacity':.5, 'stroke-width':2.6}, legend);


const legendBrightMarker = make('circle', {cx:716, cy:280, r:3.4, fill:'#808080', 'fill-opacity':.5, stroke:'#808080', 'stroke-opacity':.5, 'stroke-width':2.6}, legend);


const legendDwarf = make('text', {x:766.5, y:250, 'font-size':26.5}, legend);
legendDwarf.textContent = 'dwarf';


const legendBright = make('text', {x:766.5, y:289.5, 'font-size':26.5}, legend);
legendBright.textContent = 'bright';


</script>
</body>
</html>
